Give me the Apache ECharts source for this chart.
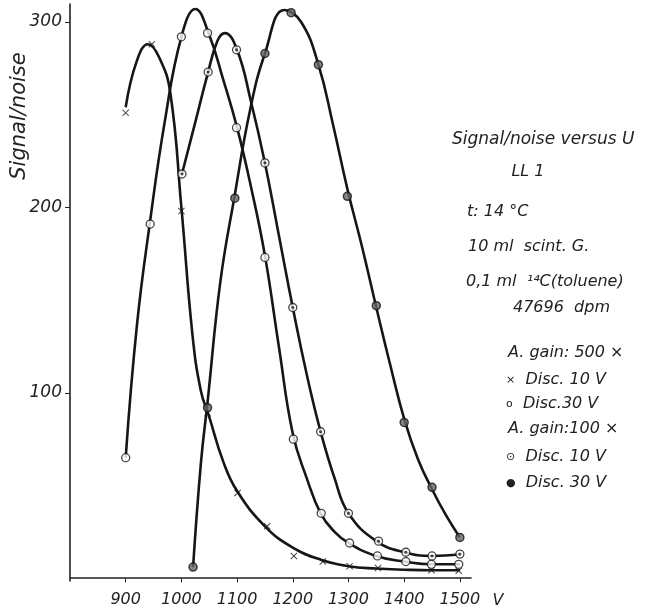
<!DOCTYPE html>
<html><head><meta charset="utf-8">
<script src="https://cdn.jsdelivr.net/npm/echarts@6/dist/echarts.min.js"></script>
<style>html,body{margin:0;padding:0;background:#fff}#c{width:656px;height:616px}</style>
</head><body><div id="c"></div>
<script>
// ---- tick labels ----
const xTicks = [900, 1000, 1100, 1200, 1300, 1400, 1500];
const yTicks = [100, 200, 300];

// ---- A. gain 500x, Disc. 10 V  (x markers) ----
const aCurve = [[900,254],[920,279],[940,288],[960,281],[980,262],[1000,200],[1020,131],[1035,101],[1050,87],[1075,63],[1100,47],[1150,28],[1200,16.5],[1250,10],[1300,6.5],[1350,5.2],[1400,4.6],[1450,4.3],[1500,4.3]];
const aPoints = [[900,251],[947,288],[1000,198],[1047,89],[1101,46],[1154,28],[1202,12],[1254,9],[1302,6.5],[1353,5.5],[1449,4.3],[1498,4]];

// ---- A. gain 500x, Disc. 30 V  (open circles) ----
const bCurve = [[900,65],[920,136],[944,193],[970,246],[1000,292],[1025,307],[1050,293],[1075,269],[1100,243],[1125,211],[1150,174],[1175,125],[1200,78],[1225,54],[1250,35],[1275,25],[1300,19],[1350,12],[1400,9],[1450,7.5],[1500,7.5]];
const bPoints = [[900,65],[944,191],[1000,292],[1047,294],[1099,243],[1150,173],[1201,75],[1251,35],[1302,19],[1352,12],[1403,9],[1449,7.5],[1498,7.5]];

// ---- A. gain 100x, Disc. 10 V  (dotted circles) ----
const cCurve = [[1001,218],[1025,246],[1048,273],[1065,290],[1078,294],[1100,285],[1125,257],[1150,224],[1175,185],[1200,146],[1225,110],[1250,79],[1275,54],[1300,35],[1350,20],[1400,14],[1450,12],[1500,12.8]];
const cPoints = [[1001,218],[1048,273],[1099,285],[1150,224],[1200,146],[1250,79],[1300,35],[1354,20],[1403,14],[1450,12],[1500,13]];

// ---- A. gain 100x, Disc. 30 V  (filled circles) ----
const dCurve = [[1021,6],[1035,62],[1047,95],[1070,160],[1096,207],[1123,252],[1150,283],[1185,306.5],[1215,300],[1246,277],[1272,245],[1298,210],[1325,178],[1350,146],[1375,115],[1400,86],[1425,64],[1450,48],[1475,34],[1500,22]];
const dPoints = [[1021,6],[1047,92],[1096,205],[1150,283],[1197,305],[1246,277],[1298,206],[1350,147],[1400,84],[1450,49],[1500,22]];

// ---- annotation texts ----
const noteLines = ['Signal/noise versus U','LL 1','t: 14 °C','10 ml  scint. G.','0,1 ml  ¹⁴C(toluene)','47696  dpm'];
const legendLines = ['A. gain: 500 ×','{s|×}  Disc. 10 V','{s|o}  Disc.30 V','A. gain:100 ×','{s|⊙}  Disc. 10 V','{s|●}  Disc. 30 V'];

const FONT = 'DejaVu Sans';
const INK = '#161616';
const crossPath = 'path://M0,1L1,0L5,4L9,0L10,1L6,5L10,9L9,10L5,6L1,10L0,9L4,5Z';
const dotCirclePath = 'path://M10,5A5,5 0 1,1 0,5A5,5 0 1,1 10,5Z M6.1,5A1.1,1.1 0 1,1 3.9,5A1.1,1.1 0 1,1 6.1,5Z';

function curve(data){
  return {type:'line', data:data, smooth:0.45, showSymbol:false, symbol:'none',
    lineStyle:{color:INK, width:2.6}, z:2, silent:true};
}
function marks(data, symbol, size, style){
  return {type:'scatter', data:data, symbol:symbol, symbolSize:size, itemStyle:style, z:5, silent:true};
}

const chart = echarts.init(document.getElementById('c'), null, {renderer:'canvas'});
const txt = (text, x, y, size, align) => ({type:'text', x:x, y:y, silent:true,
  style:{text:text, fill:'#222', font:'italic ' + size + 'px "' + FONT + '"', align:align||'left', verticalAlign:'middle', textAlign:align||'left', textVerticalAlign:'middle',
    rich:{s:{fontSize:11, fontFamily:FONT, fill:'#222', verticalAlign:'middle'}}}});

const noteX = [452, 528, 467, 468, 466, 513];
const noteY = [140, 172, 212, 247, 282, 308];
const noteSize = [17, 16, 16, 16, 16, 16];
const noteAlign = ['left','center','left','left','left','left'];
const legX = [508, 506, 506, 508, 506, 506];
const legY = [353, 380, 404, 429, 457, 483];

const graphics = [];
noteLines.forEach((t,i)=>graphics.push(txt(t, noteX[i], noteY[i], noteSize[i], noteAlign[i])));
legendLines.forEach((t,i)=>graphics.push(txt(t, legX[i], legY[i], 16, 'left')));
graphics.push(txt('V', 498, 601, 16, 'center'));
const yName = txt('Signal/noise', 20, 116, 21, 'center');
yName.rotation = Math.PI/2;
graphics.push(yName);

chart.setOption({
  animation:false,
  backgroundColor:'#fff',
  grid:{left:70, right:185, top:4, bottom:35, containLabel:false},
  xAxis:{type:'value', min:800, max:1520, interval:100,
    axisLine:{show:true, lineStyle:{color:'#222', width:1.6}},
    axisTick:{show:true, customValues:xTicks, length:4, lineStyle:{color:'#222'}},
    axisLabel:{customValues:xTicks, formatter:v=>String(v), fontSize:16, fontStyle:'italic', fontFamily:FONT, color:'#222', margin:11},
    splitLine:{show:false}},
  yAxis:{type:'value', min:-1.5, max:309.7,
    axisLine:{show:true, lineStyle:{color:'#222', width:1.6}},
    axisTick:{show:true, customValues:yTicks, length:5, lineStyle:{color:'#222'}},
    axisLabel:{customValues:yTicks, formatter:v=>String(v), fontSize:17, fontStyle:'italic', fontFamily:FONT, color:'#222', margin:8},
    splitLine:{show:false}},
  graphic:{elements:graphics},
  series:[
    curve(aCurve), curve(bCurve), curve(cCurve), curve(dCurve),
    marks(aPoints, crossPath, 7, {color:INK}),
    marks(bPoints, 'circle', 8, {color:'#fff', borderColor:INK, borderWidth:1.3}),
    marks(cPoints, dotCirclePath, 8, {color:'#fff', borderColor:INK, borderWidth:1.3}),
    marks(dPoints, 'circle', 8, {color:'#666', borderColor:INK, borderWidth:1.5})
  ]
});
</script></body></html>
